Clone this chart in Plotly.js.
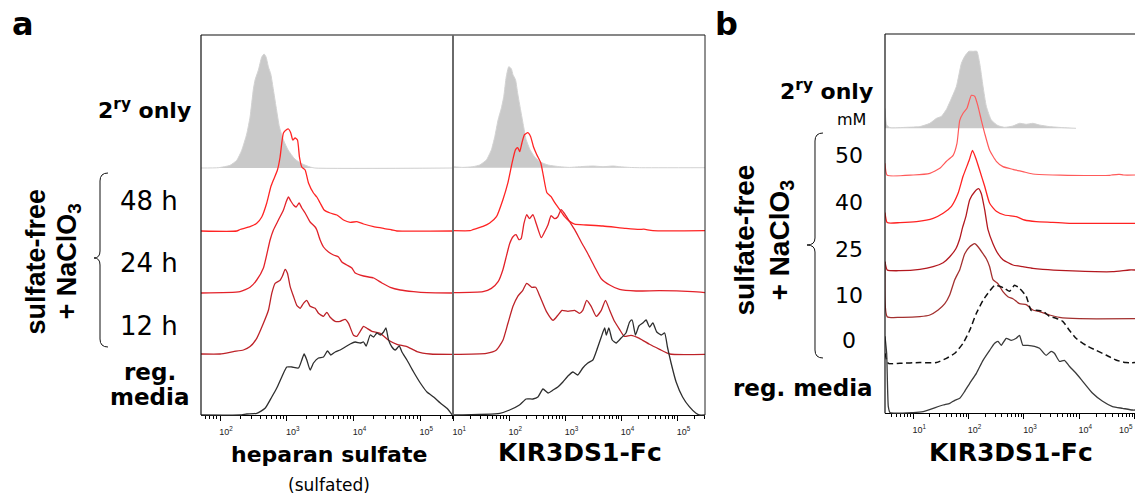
<!DOCTYPE html>
<html><head><meta charset="utf-8">
<script src="https://cdn.plot.ly/plotly-3.0.1.min.js"></script>
<style>html,body{margin:0;padding:0;background:#fff}#chart{width:1135px;height:498px}</style>
</head><body><div id="chart"></div>
<script>
// Each series: [log10 fluorescence, events].
// Panel a, left: heparan sulfate (sulfated)
const HS_2RY = [[1.715,0],[1.975,0.3],[2.15,2.7],[2.25,7.7],[2.325,17.7],[2.40,34],[2.45,51],[2.50,79],[2.525,88],[2.575,98],[2.625,111],[2.66,114],[2.69,111],[2.725,101],[2.76,94],[2.80,78],[2.84,61],[2.89,41],[2.95,28],[3.02,18],[3.12,9],[3.225,4.3],[3.35,1],[3.42,0],[5.49,0]];
const HS_48H = [[1.715,0],[2.25,0],[2.30,1.5],[2.45,4.3],[2.55,7.7],[2.625,14],[2.70,28],[2.76,44],[2.80,51],[2.86,61],[2.90,74],[2.925,88],[2.95,98],[2.99,101],[3.025,102],[3.06,98],[3.09,91],[3.125,93],[3.16,91],[3.19,74],[3.225,64],[3.275,61],[3.325,48],[3.40,38],[3.45,34],[3.50,28],[3.56,21],[3.65,18],[3.75,16],[3.85,11],[3.95,8.7],[4.05,9.3],[4.15,7],[4.30,4.3],[4.45,2.7],[4.575,1],[4.65,0],[5.49,0]];
const HS_24H = [[1.715,0],[2.30,1.3],[2.45,5.7],[2.55,13],[2.65,25],[2.75,53],[2.80,63],[2.875,73],[2.95,83],[2.99,91],[3.025,96],[3.06,92],[3.10,88],[3.14,86],[3.185,90],[3.225,85],[3.275,80],[3.35,71],[3.425,66],[3.45,63],[3.50,53],[3.55,46],[3.625,41],[3.70,38],[3.775,36],[3.825,31],[3.90,28],[3.975,25],[4.025,20],[4.15,17],[4.30,15],[4.425,10],[4.55,5.7],[4.70,3],[4.90,1.3],[5.10,0.3],[5.49,0]];
const HS_12H = [[1.715,0.3],[2.0,0.3],[2.20,2.7],[2.35,4.3],[2.45,7.7],[2.55,16],[2.65,31],[2.725,44],[2.775,61],[2.825,71],[2.90,74],[2.94,79],[2.975,85],[3.01,81],[3.05,68],[3.10,58],[3.15,49],[3.20,46],[3.25,51],[3.30,54],[3.35,48],[3.425,46],[3.475,41],[3.55,38],[3.60,42],[3.65,37],[3.725,33],[3.80,33],[3.875,35],[3.925,31],[4.00,19],[4.05,18],[4.10,23],[4.15,28],[4.20,26],[4.275,23],[4.40,21],[4.525,14],[4.65,10],[4.80,7.7],[4.95,2.7],[5.15,0.3],[5.49,0]];
const HS_REG = [[1.715,0],[2.30,0],[2.40,1],[2.55,1.7],[2.675,6.7],[2.775,18],[2.85,27],[2.925,38],[3.00,48],[3.075,48],[3.175,47],[3.225,55],[3.26,61],[3.30,55],[3.35,45],[3.40,52],[3.475,57],[3.55,58],[3.61,64],[3.66,60],[3.725,63],[3.80,65],[3.875,68],[3.95,71],[4.025,73],[4.10,72],[4.15,73],[4.19,69],[4.25,80],[4.30,78],[4.35,82],[4.40,80],[4.45,83],[4.485,87],[4.525,75],[4.575,68],[4.625,65],[4.685,69],[4.725,63],[4.80,55],[4.90,43],[5.00,32],[5.10,23],[5.20,18],[5.30,12],[5.40,6.7],[5.46,1.7],[5.48,0]];

// Panel a, right: KIR3DS1-Fc binding
const KIR_2RY = [[0.995,1],[1.17,0.3],[1.35,1],[1.47,2.7],[1.59,7.7],[1.68,18],[1.74,31],[1.80,48],[1.855,59],[1.90,71],[1.945,91],[1.99,101],[2.035,99],[2.065,93],[2.11,88],[2.15,74],[2.20,58],[2.255,41],[2.30,28],[2.37,18],[2.45,11],[2.54,6],[2.69,2.7],[2.90,1],[3.075,0.3],[3.25,1],[3.49,1.7],[3.67,1],[3.85,1.7],[3.97,1],[4.14,0.3],[4.32,0],[5.49,0]];
const KIR_48H = [[0.995,0],[1.30,0],[1.35,1],[1.53,4.3],[1.65,7.7],[1.77,14],[1.885,31],[1.975,48],[2.05,68],[2.11,81],[2.15,83],[2.185,79],[2.225,88],[2.27,96],[2.33,98],[2.38,94],[2.43,84],[2.49,76],[2.56,68],[2.61,54],[2.67,38],[2.745,34],[2.81,28],[2.90,21],[2.985,14],[3.075,9.3],[3.165,6.5],[3.37,5.7],[3.67,4.7],[4.08,2.3],[4.32,1.3],[4.40,1.5],[4.56,0],[5.49,0]];
const KIR_24H = [[0.995,0],[1.53,1],[1.68,4.3],[1.80,11],[1.885,23],[1.945,36],[2.005,49],[2.065,56],[2.12,58],[2.17,53],[2.21,54],[2.26,69],[2.31,78],[2.36,74],[2.42,78],[2.48,69],[2.57,55],[2.63,61],[2.69,68],[2.745,77],[2.81,74],[2.865,76],[2.925,83],[2.985,79],[3.075,71],[3.165,63],[3.28,51],[3.40,39],[3.52,26],[3.64,14],[3.79,7.7],[3.965,3.3],[4.26,1.7],[4.68,2],[5.27,1],[5.49,0]];
const KIR_12H = [[0.995,0],[1.59,1],[1.77,4.3],[1.885,14],[1.975,31],[2.065,48],[2.15,58],[2.24,64],[2.31,71],[2.40,67],[2.47,67],[2.545,58],[2.66,43],[2.78,34],[2.865,39],[2.94,44],[3.045,43],[3.165,44],[3.25,41],[3.31,44],[3.38,54],[3.46,48],[3.55,38],[3.64,44],[3.715,54],[3.79,44],[3.875,33],[3.965,25],[4.05,18],[4.17,19],[4.32,16],[4.50,10],[4.68,5],[4.86,0.3],[5.49,0]];
const KIR_REG = [[0.995,0],[1.83,1.7],[2.005,5],[2.18,10],[2.30,16],[2.42,16],[2.51,18],[2.60,26],[2.69,22],[2.78,25],[2.865,28],[2.955,33],[3.045,39],[3.135,43],[3.22,40],[3.31,47],[3.40,52],[3.49,55],[3.56,65],[3.64,78],[3.70,87],[3.73,80],[3.775,87],[3.835,75],[3.905,72],[3.995,77],[4.08,82],[4.145,93],[4.19,95],[4.25,80],[4.31,89],[4.38,92],[4.44,95],[4.50,88],[4.56,92],[4.63,83],[4.71,80],[4.77,82],[4.82,68],[4.885,52],[4.975,33],[5.09,18],[5.21,8.3],[5.33,1.7],[5.39,0],[5.49,0]];

// Panel b: KIR3DS1-Fc binding vs NaClO3 dose (mM)
const DOSE_2RY = [[0.49,20],[0.52,3.3],[0.58,0.7],[0.88,1],[1.12,1.7],[1.30,5],[1.42,10],[1.51,12],[1.60,19],[1.69,30],[1.78,42],[1.87,65],[1.93,72],[2.005,77],[2.08,77],[2.15,77],[2.20,65],[2.26,42],[2.32,22],[2.41,8.3],[2.53,2.7],[2.65,1],[2.80,2.3],[2.92,5],[3.04,4],[3.16,5],[3.28,3.3],[3.46,1.7],[3.70,0.7],[3.94,0]];
const DOSE_50 = [[0.49,12],[0.53,0],[1.0,0.3],[1.30,2],[1.48,7],[1.60,14],[1.72,20],[1.79,32],[1.84,55],[1.90,62],[1.97,67],[2.05,80],[2.11,79],[2.17,69],[2.23,55],[2.29,42],[2.38,25],[2.50,14],[2.62,8.7],[2.80,6],[2.98,3.7],[3.16,1.3],[3.52,0.3],[3.79,0],[4.55,0],[4.60,0.5],[4.72,1],[4.80,0.3],[5.005,0.3]];
const DOSE_40 = [[0.49,10.7],[0.53,0.7],[0.76,0.7],[1.06,1.7],[1.36,5],[1.54,10],[1.69,17],[1.81,30],[1.90,47],[2.01,63],[2.07,73],[2.13,65],[2.20,53],[2.29,37],[2.38,20],[2.50,12],[2.65,8.3],[2.86,6.7],[3.01,3.3],[3.22,1.7],[3.52,1],[3.82,0],[5.005,0]];
const DOSE_25 = [[0.49,10],[0.53,1.7],[0.76,1],[1.12,2.3],[1.36,5],[1.54,9],[1.66,15],[1.77,23],[1.84,33],[1.89,44],[1.95,55],[2.02,72],[2.11,80],[2.18,83],[2.23,78],[2.29,62],[2.35,42],[2.44,28],[2.53,18],[2.62,12],[2.80,6.7],[2.98,5],[3.16,3.3],[3.34,2.3],[3.76,1],[4.60,0],[4.90,1.7],[5.005,1.7]];
const DOSE_10 = [[0.49,57],[0.53,2],[0.76,1.3],[1.12,2],[1.30,3.7],[1.45,8.7],[1.57,15],[1.66,24],[1.75,39],[1.84,49],[1.93,65],[2.02,72],[2.11,75],[2.17,72],[2.26,65],[2.32,60],[2.38,52],[2.44,39],[2.53,35],[2.62,27],[2.71,22],[2.80,20],[2.92,15],[3.04,14],[3.16,8.7],[3.28,7],[3.46,3.7],[3.64,1.3],[4.0,0],[5.005,0]];
const DOSE_0 = [[0.49,10],[0.55,0],[0.76,0],[1.12,0.7],[1.42,0.7],[1.60,5],[1.75,10],[1.90,20],[2.02,33],[2.14,50],[2.26,63],[2.35,70],[2.47,78],[2.56,77],[2.65,75],[2.74,72],[2.83,78],[2.92,75],[3.04,67],[3.13,53],[3.22,53],[3.34,52],[3.46,47],[3.58,45],[3.70,42],[3.82,33],[3.94,25],[4.12,18],[4.30,13],[4.48,8.3],[4.66,3.3],[4.84,0.7],[5.005,0.7]];
const DOSE_REG = [[0.49,77],[0.52,60],[0.55,6.7],[0.58,0.7],[1.0,0.7],[1.18,1.7],[1.36,5],[1.54,8.3],[1.66,10],[1.75,13],[1.84,15],[1.93,22],[2.02,30],[2.14,40],[2.26,53],[2.38,63],[2.47,70],[2.53,72],[2.59,68],[2.68,75],[2.77,73],[2.86,75],[2.92,78],[2.98,68],[3.07,68],[3.19,67],[3.28,65],[3.40,58],[3.49,62],[3.55,60],[3.64,52],[3.73,53],[3.82,47],[3.94,40],[4.06,32],[4.24,20],[4.42,12],[4.60,6.7],[4.78,5],[4.96,3.3],[5.005,3.3]];

// Tick label decades
const TICKS_HS = [2,3,4,5];
const TICKS_KIR = [1,2,3,4,5];
const TICKS_DOSE = [1,2,3,4,5];

// ---------- layout / styling ----------
const W = 1135, H = 498;
const fx = p => p / W, fy = p => 1 - p / H;

const ST = {
  gray:  {line:{color:'#d2d2d2', width:1}, fill:'tozeroy', fillcolor:'#c9c9c9'},
  r48:   {line:{color:'#ff2424', width:1.3}},
  r24:   {line:{color:'#e3222a', width:1.3}},
  r12:   {line:{color:'#bd2228', width:1.3}},
  reg:   {line:{color:'#2e2e2e', width:1.3}},
  d50:   {line:{color:'#ff5a5a', width:1.2}},
  d40:   {line:{color:'#ff2222', width:1.3}},
  d25:   {line:{color:'#b3181f', width:1.3}},
  d10:   {line:{color:'#a3302f', width:1.3}},
  d0:    {line:{color:'#111111', width:1.5, dash:'6px,3.5px'}},
  dreg:  {line:{color:'#3a3a3a', width:1.3}}
};

const panels = [
  {dom:[201,453], range:[1.715,5.49], top:35, axisY:415, ticks:TICKS_HS, edgeLabel:false,
   rows:[[HS_2RY,168,'gray','2ry only'],[HS_48H,231,'r48','48 h'],[HS_24H,293,'r24','24 h'],[HS_12H,354.3,'r12','12 h'],[HS_REG,415,'reg','reg. media']]},
  {dom:[453,705], range:[0.995,5.49], top:35, axisY:415, ticks:TICKS_KIR, edgeLabel:false,
   rows:[[KIR_2RY,167.7,'gray','2ry only'],[KIR_48H,230.7,'r48','48 h'],[KIR_24H,292.7,'r24','24 h'],[KIR_12H,354.3,'r12','12 h'],[KIR_REG,415,'reg','reg. media']]},
  {dom:[885,1135], range:[0.49,5.005], top:34, axisY:413.3, ticks:TICKS_DOSE, edgeLabel:true,
   rows:[[DOSE_2RY,128.3,'gray','2ry only'],[DOSE_50,175.3,'d50','50 mM'],[DOSE_40,223.3,'d40','40 mM'],[DOSE_25,271.7,'d25','25 mM'],[DOSE_10,318.7,'d10','10 mM'],[DOSE_0,363.3,'d0','0 mM'],[DOSE_REG,413.3,'dreg','reg. media']]}
];

const traces = [];
const layout = {
  width: W, height: H, margin:{l:0,r:0,t:0,b:0},
  paper_bgcolor:'#ffffff', plot_bgcolor:'rgba(0,0,0,0)',
  showlegend:false, hovermode:false,
  shapes:[], annotations:[]
};
const TICKFONT = {family:'Liberation Sans, Arial, sans-serif', size:9, color:'#222'};

let n = 0;
panels.forEach((p, pi) => {
  const xs = pi === 0 ? '' : String(pi + 1);
  const minorVals = [];
  for (let k = Math.floor(p.range[0]); k <= Math.ceil(p.range[1]); k++)
    for (let m = 2; m <= 9; m++) {
      const v = m * Math.pow(10, k);
      if (Math.log10(v) > p.range[0] && Math.log10(v) < p.range[1]) minorVals.push(v);
    }
  const last = p.ticks[p.ticks.length - 1];
  layout['xaxis' + xs] = {
    type:'log', range:p.range, domain:[fx(p.dom[0]), fx(p.dom[1])],
    anchor:'free', position:fy(p.axisY),
    showline:true, linecolor:'#000', linewidth:1, mirror:false,
    ticks:'outside', ticklen:5, tickwidth:1, tickcolor:'#000',
    tickmode:'array', tickvals:p.ticks.map(k => Math.pow(10, k)),
    // a label sitting on the page's right edge is placed as an annotation so it stays inside
    ticktext:p.ticks.map(k => (p.edgeLabel && k === last) ? '' : '10<sup>' + k + '</sup>'),
    tickfont:TICKFONT,
    ticklabelshift:6, ticklabelstandoff:3,
    minor:{tickvals:minorVals, ticks:'outside', ticklen:3, tickwidth:1, tickcolor:'#000', showgrid:false},
    showgrid:false, zeroline:false, fixedrange:true
  };
  if (p.edgeLabel) {
    layout.annotations.push({text:'10<sup>' + last + '</sup>', xref:'paper', yref:'paper',
      x:1, y:fy(p.axisY + 16), xanchor:'right', yanchor:'middle', showarrow:false, font:TICKFONT});
  }
  p.rows.forEach(r => {
    n++;
    const ys = n === 1 ? '' : String(n);
    const [data, base, sk, name] = r;
    layout['yaxis' + ys] = {
      domain:[fy(base + 1.5), fy(p.top)], range:[-1.5, base - p.top],
      anchor:'x' + xs, visible:false, fixedrange:true
    };
    const st = JSON.parse(JSON.stringify(ST[sk]));
    st.line.shape = 'spline';
    st.line.smoothing = 0.5;
    traces.push(Object.assign({
      type:'scatter', mode:'lines', name:name,
      x:data.map(d => Math.pow(10, d[0])), y:data.map(d => d[1]),
      xaxis:'x' + xs, yaxis:'y' + ys, hoverinfo:'skip'
    }, st));
  });
});

// frames
const L = (x0,y0,x1,y1,c,w) => ({type:'line', xref:'paper', yref:'paper', x0:fx(x0), y0:fy(y0), x1:fx(x1), y1:fy(y1), line:{color:c, width:w}, layer:'above'});
layout.shapes.push(
  L(201,35,705,35,'#111',1.2), L(201,35,201,415,'#111',1.2),
  L(453,35,453,415,'#6a6a6a',2), L(705,35,705,415,'#222',1),
  L(885,34,1135,34,'#111',1.2), L(885,34,885,413.3,'#111',1.2)
);
// braces
const P = pts => pts.map(s => s[0] + fx(s[1]).toFixed(5) + ',' + fy(s[2]).toFixed(5) + (s.length > 3 ? ' ' + fx(s[3]).toFixed(5) + ',' + fy(s[4]).toFixed(5) : '')).join(' ');
function brace(x, xt, yTop, yTip, yBot) {
  const h = x + 8;
  return {type:'path', xref:'paper', yref:'paper', line:{color:'#111', width:1},
    path: P([['M',h,yTop],['Q',x,yTop,x,yTop+8],['L',x,yTip-7],['Q',x,yTip,xt,yTip],['Q',x,yTip,x,yTip+7],['L',x,yBot-8],['Q',x,yBot,h,yBot]])};
}
layout.shapes.push(brace(100,94,173,258,347), brace(815,807,133,245,358));

// text
const DJ = 'DejaVu Sans, Verdana, sans-serif', LS = 'Liberation Sans, Arial, sans-serif';
const A = (t, x, y, size, opt) => Object.assign({text:t, xref:'paper', yref:'paper', x:fx(x), y:fy(y), showarrow:false,
  xanchor:'center', yanchor:'middle', font:{family:DJ, size:size, color:'#000'}}, opt || {});
const B = (o) => { o.font.weight = 'bold'; return o; };
layout.annotations.push(
  B(A('a', 10, 24, 32, {xanchor:'left'})),
  B(A('b', 713, 24, 32, {xanchor:'left'})),
  B(A('2<sup>ry</sup> only', 193, 109.5, 22, {xanchor:'right'})),
  A('48 h', 118, 201, 26, {xanchor:'left'}),
  A('24 h', 118, 263, 26, {xanchor:'left'}),
  A('12 h', 118, 326, 26, {xanchor:'left'}),
  B(A('reg.', 150, 372, 23)),
  B(A('media', 149, 396.5, 23)),
  B(A('sulfate-free', 35.5, 262, 27, {textangle:-90, font:{family:LS, size:27, color:'#000'}})),
  B(A('+ NaClO<sub>3</sub>', 68.5, 262, 27, {textangle:-90, font:{family:LS, size:27, color:'#000'}})),
  B(A('heparan sulfate', 329, 454, 22)),
  A('(sulfated)', 329, 485, 17),
  B(A('KIR3DS1-Fc', 580, 452, 25)),
  B(A('KIR3DS1-Fc', 1011, 452, 25)),
  B(A('2<sup>ry</sup> only', 875, 89.5, 22, {xanchor:'right'})),
  A('mM', 851, 119.5, 16),
  A('50', 849, 155.3, 22),
  A('40', 849, 202.3, 22),
  A('25', 849, 249, 22),
  A('10', 849, 295.6, 22),
  A('0', 849, 340.6, 22),
  B(A('reg. media', 875, 387.5, 23, {xanchor:'right'})),
  B(A('sulfate-free', 743.5, 240, 28, {textangle:-90, font:{family:LS, size:28, color:'#000'}})),
  B(A('+ NaClO<sub>3</sub>', 780.5, 240, 28, {textangle:-90, font:{family:LS, size:28, color:'#000'}}))
);

Plotly.newPlot('chart', traces, layout, {staticPlot:true, displayModeBar:false});
</script>
</body></html>
